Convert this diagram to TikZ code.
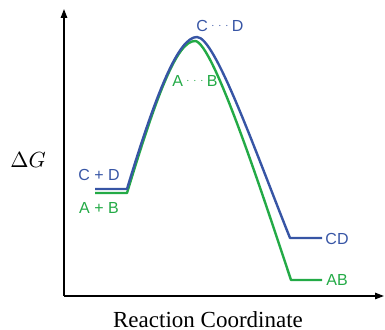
\documentclass[tikz,border=0pt]{standalone}
\usepackage{fontspec}
\setmainfont{Liberation Serif}
\newfontfamily\labelfont{Liberation Sans}
\usetikzlibrary{arrows.meta,positioning}
\definecolor{cdcolor}{RGB}{55,85,165}
\definecolor{abcolor}{RGB}{35,170,70}
\newcommand{\tsdots}{\,\raisebox{1.6pt}{\tiny$\cdots$}\,}

\begin{document}
\begin{tikzpicture}[x=0.5pt,y=-0.5pt]
    \useasboundingbox (0,0) rectangle (385,330);
    \tikzset{
      axis/.style={line width=0.8pt,-{Triangle[length=4.5pt,width=3.2pt]}},
      level/.style={line width=1.2pt,line join=round},
      species/.style={font=\labelfont\fontsize{8}{9.6}\selectfont,inner sep=0pt}
    }
    % axes
    \coordinate (origin) at (64,296);
    \coordinate (ytip) at (64,9);
    \coordinate (xtip) at (384,296);
    \draw[axis] (origin) -- (ytip);
    \draw[axis] (origin) -- (xtip);
    \node (dg) at (28,160) {\fontsize{11}{13}\selectfont $\Delta G$};
    \node (rc) at (208,320) {\fontsize{11.5}{13}\selectfont Reaction Coordinate};
    % energy profiles
    \draw[level,abcolor] (95,193) -- (127,193)
      .. controls (157,94) and (177,41) .. (195,41)
      .. controls (213,41) and (266,205) .. (291,280) -- (322,280);
    \draw[level,cdcolor] (95,189) -- (127,189)
      .. controls (157,90) and (179,37) .. (197,37)
      .. controls (215,37) and (255,150.5) .. (290,238) -- (322,238);
    % labels
    \foreach \name/\x/\y/\col/\txt in {cd0/99/175/cdcolor/C + D, ab0/99/208/abcolor/A + B,
      cd/337/239/cdcolor/CD, ab/337/280/abcolor/AB}{
      \node[species,text=\col] (\name) at (\x,\y) {\txt};
    }
    \node[species,text=cdcolor] (cdts) at (220,26) {C\tsdots D};
    \node[species,text=abcolor] (abts) at (195,81) {A\tsdots B};
\end{tikzpicture}
\end{document}
